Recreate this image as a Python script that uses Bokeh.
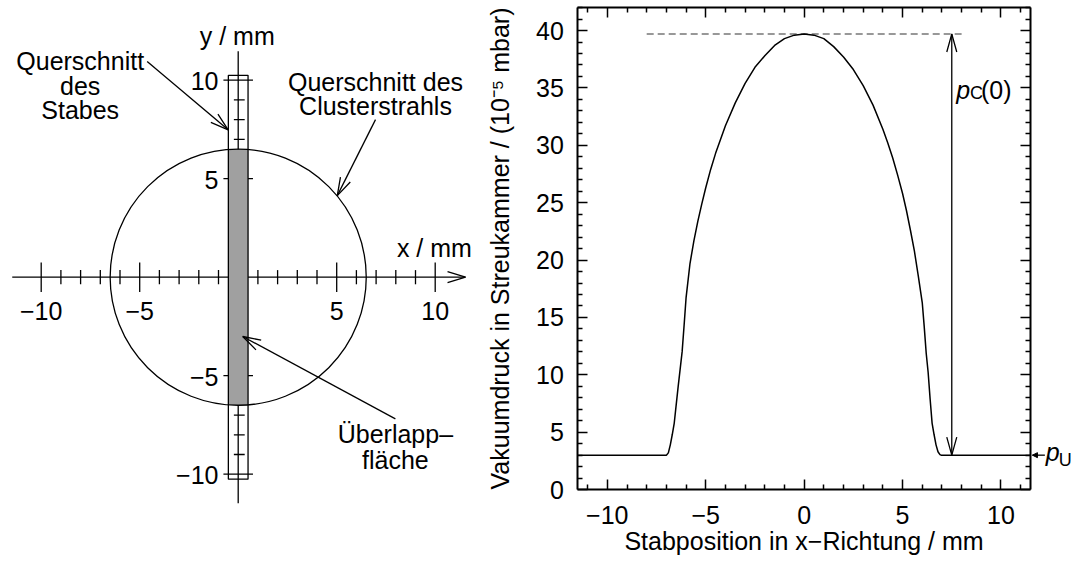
from bokeh.plotting import figure
from bokeh.models import Range1d, FixedTicker, CustomJSTickFormatter, LinearAxis
from bokeh.embed import file_html
from bokeh.resources import INLINE
from bokeh.core.properties import value
import numpy as np

# ---------------- data ----------------
# right panel: pressure vs rod position
stab_x = [-11.5, -7.0, -6.9, -6.8, -6.7, -6.6, -6.5, -6.4, -6.3, -6.2, -6.1, -6.0,
          -5.8, -5.6, -5.4, -5.2, -5.0, -4.75, -4.5, -4.25, -4.0, -3.5, -3.0, -2.5,
          -2.0, -1.5, -1.0, -0.5, 0.0, 0.5, 1.0, 1.5, 2.0, 2.5, 3.0, 3.5, 4.0, 4.25,
          4.5, 4.75, 5.0, 5.2, 5.4, 5.6, 5.8, 6.0, 6.1, 6.2, 6.3, 6.4, 6.5, 6.6, 6.7,
          6.8, 6.9, 6.96, 11.5]
druck = [3.0, 3.0, 3.2, 3.9, 4.8, 5.8, 7.4, 9.0, 10.5, 12.0, 14.3, 16.7,
         19.7, 21.7, 23.4, 24.9, 26.3, 27.9, 29.3, 30.5, 31.7, 33.7, 35.4, 36.8,
         37.8, 38.7, 39.3, 39.6, 39.7, 39.6, 39.3, 38.6, 37.7, 36.6, 35.2, 33.5, 31.4, 30.2,
         28.9, 27.4, 25.8, 24.3, 22.6, 20.8, 18.6, 16.3, 14.2, 11.9, 10.2, 7.9, 5.8, 4.8, 3.9,
         3.3, 3.05, 3.0, 3.0]
p_peak = 39.7
p_u = 3.0
peak_dash_x = [-8.0, 8.0]
pc_arrow_x = 7.5
r_xlim = (-11.5, 11.5)
r_ylim = (0, 42)
r_x_major = [-10, -5, 0, 5, 10]
r_x_minor = [-11, -9, -8, -7, -6, -4, -3, -2, -1, 1, 2, 3, 4, 6, 7, 8, 9, 11]
r_y_major = [0, 5, 10, 15, 20, 25, 30, 35, 40]
r_y_minor = [1, 2, 3, 4, 6, 7, 8, 9, 11, 12, 13, 14, 16, 17, 18, 19, 21, 22, 23, 24,
             26, 27, 28, 29, 31, 32, 33, 34, 36, 37, 38, 39, 41, 42]

# left panel: geometry sketch
circle_r = 6.5
rod_half_w = 0.5
rod_half_len = 10.25
axis_min, axis_max = -11.47, 11.5
l_major = [-10, -5, 5, 10]
l_major_labels = ["\u221210", "\u22125", "5", "10"]
l_minor = [-9, -8, -7, -6, -4, -3, -2, -1, 1, 2, 3, 4, 6, 7, 8, 9]

FONT = "Liberation Sans"
FS = "25px"
W, H = 1084, 561

# ---------------- helpers ----------------
def head_pts(tail, tip, sx, sy, length, half):
    dx = (tip[0] - tail[0]) * sx
    dy = (tip[1] - tail[1]) * sy
    L = (dx * dx + dy * dy) ** 0.5
    ux, uy = dx / L, dy / L
    bx, by = -ux * length, -uy * length
    px, py = -uy * half, ux * half
    xs = [tip[0] + (bx + px) / sx, tip[0], tip[0] + (bx - px) / sx]
    ys = [tip[1] + (by + py) / sy, tip[1], tip[1] + (by - py) / sy]
    return xs, ys

# ---------------- single canvas ----------------
SX = 452.7 / 23.0          # px per mm (right panel)
SY = 482.0 / 42.0          # px per 1e-5 mbar
FX0, FY0 = 577.3, 489.1    # pixel of (x=-11.5, y=0)
xr = Range1d(r_xlim[0] - FX0 / SX, r_xlim[0] + (W - FX0) / SX)
yr = Range1d(-(H - FY0) / SY, FY0 / SY)

p = figure(width=W, height=H, x_range=xr, y_range=yr, x_axis_type=None, y_axis_type=None,
           output_backend="svg", toolbar_location=None, min_border=0)
p.grid.visible = False
p.outline_line_color = None

# left panel coordinate system (extra ranges, equal scale)
S = 19.7
OX, OY = 237.7, 276.7
p.extra_x_ranges = {"lx": Range1d(-OX / S, (W - OX) / S)}
p.extra_y_ranges = {"ly": Range1d(-(H - OY) / S, OY / S)}
L = dict(x_range_name="lx", y_range_name="ly")

blk = dict(line_color="black", line_width=1.3)
p.segment(x0=[axis_min], y0=[0], x1=[axis_max + 0.04], y1=[0], **blk, **L)
p.segment(x0=[0], y0=[axis_min], x1=[0], y1=[axis_max - 0.03], **blk, **L)
hx, hy = head_pts((0, 0), (axis_max + 0.04, 0), S, S, 18, 5.5)
p.line(hx, hy, **blk, **L)
p.segment(x0=l_major, y0=[-0.75] * 4, x1=l_major, y1=[0.75] * 4, **blk, **L)
p.segment(x0=l_minor, y0=[-0.36] * len(l_minor), x1=l_minor, y1=[0.36] * len(l_minor), **blk, **L)
p.segment(x0=[-0.75] * 4, y0=l_major, x1=[0.75] * 4, y1=l_major, **blk, **L)
p.segment(x0=[-0.22] * len(l_minor), y0=l_minor, x1=[0.33] * len(l_minor), y1=l_minor, **blk, **L)
ax = np.linspace(-rod_half_w, rod_half_w, 21)
ay = np.sqrt(circle_r ** 2 - ax ** 2)
p.patch(np.concatenate([ax, ax[::-1]]), np.concatenate([ay, -ay[::-1]]),
        fill_color="#a0a0a0", line_color=None, **L)
p.circle(x=[0], y=[0], radius=circle_r, fill_color=None, line_color="black", line_width=1.3, **L)
p.quad(left=[-rod_half_w], right=[rod_half_w], bottom=[-rod_half_len], top=[rod_half_len],
       fill_color=None, **blk, **L)

txt = dict(text_font=value(FONT), text_font_size=FS, text_baseline="alphabetic", text_color="black")
p.text(x=l_major, y=[-1.7] * 4, text=l_major_labels, text_align="center", **txt, **L)
p.text(x=[-1.0] * 4, y=[v - 0.06 for v in l_major], text=l_major_labels, text_align="right", **txt, **L)
p.text(x=[-0.05], y=[12.23], text=["y / mm"], text_align="center", **txt, **L)
p.text(x=[9.96], y=[1.48], text=["x / mm"], text_align="center", **txt, **L)
p.text(x=[-8.02] * 3, y=[11.0, 9.73, 8.5], text=["Querschnitt", "des", "Stabes"],
       text_align="center", **txt, **L)
p.text(x=[6.97] * 2, y=[9.89, 8.7], text=["Querschnitt des", "Clusterstrahls"],
       text_align="center", **txt, **L)
p.text(x=[7.98] * 2, y=[-7.97, -9.27], text=["\u00dcberlapp\u2013", "fl\u00e4che"],
       text_align="center", **txt, **L)

for tail, tip in [((-4.62, 10.95), (-0.51, 7.48)),
                  ((6.97, 8.0), (5.03, 4.14)),
                  ((7.98, -7.19), (0.23, -3.01))]:
    p.segment(x0=[tail[0]], y0=[tail[1]], x1=[tip[0]], y1=[tip[1]], **blk, **L)
    hx, hy = head_pts(tail, tip, S, S, 18, 5.5)
    p.line(hx, hy, **blk, **L)

# ---------------- right panel axes ----------------
fmt = CustomJSTickFormatter(code="return tick < 0 ? '\\u2212' + Math.abs(tick) : String(tick);")
empty = CustomJSTickFormatter(code="return '';")

bottom = LinearAxis(ticker=FixedTicker(ticks=r_x_major, minor_ticks=r_x_minor), formatter=fmt,
                    fixed_location=r_ylim[0], bounds=r_xlim,
                    axis_label="Stabposition in x\u2212Richtung / mm",
                    major_label_standoff=16, axis_label_standoff=0)
leftax = LinearAxis(ticker=FixedTicker(ticks=r_y_major, minor_ticks=r_y_minor), formatter=fmt,
                    fixed_location=r_xlim[0], bounds=r_ylim,
                    axis_label="Vakuumdruck in Streukammer / (10\u207b\u2075 mbar)",
                    major_label_standoff=14, axis_label_standoff=19)
top = LinearAxis(ticker=FixedTicker(ticks=r_x_major, minor_ticks=r_x_minor), formatter=empty,
                 fixed_location=r_ylim[1], bounds=r_xlim, major_label_text_font_size="0px",
                 major_label_standoff=0)
rightax = LinearAxis(ticker=FixedTicker(ticks=r_y_major, minor_ticks=r_y_minor), formatter=empty,
                     fixed_location=r_xlim[1], bounds=r_ylim, major_label_text_font_size="0px",
                     major_label_standoff=0)
for a in [bottom, leftax]:
    a.major_label_text_font = FONT
    a.major_label_text_font_size = FS
    a.major_label_text_color = "black"
    a.axis_label_text_font = FONT
    a.axis_label_text_font_size = FS
    a.axis_label_text_font_style = "normal"
    a.axis_label_text_color = "black"
for a in [bottom, leftax, top, rightax]:
    a.axis_line_color = "black"
    a.axis_line_width = 2
    a.major_tick_in = 10
    a.major_tick_out = 0
    a.minor_tick_in = 5
    a.minor_tick_out = 0
    a.major_tick_line_color = "black"
    a.minor_tick_line_color = "black"
    a.major_tick_line_width = 1.5
    a.minor_tick_line_width = 1.5
p.add_layout(bottom, "below")
p.add_layout(leftax, "left")
p.add_layout(top, "above")
p.add_layout(rightax, "right")

# ---------------- right panel content ----------------
p.line(peak_dash_x, [p_peak, p_peak], line_color="#777777", line_width=1.3, line_dash="7 4")
p.line(stab_x, druck, line_color="black", line_width=1.5)
p.segment(x0=[pc_arrow_x], y0=[p_u], x1=[pc_arrow_x], y1=[p_peak], line_color="black", line_width=1.3)
for tail, tip in [((pc_arrow_x, p_u), (pc_arrow_x, p_peak)), ((pc_arrow_x, p_peak), (pc_arrow_x, p_u))]:
    hx, hy = head_pts(tail, tip, SX, SY, 18, 5.0)
    p.line(hx, hy, line_color="black", line_width=1.3)

pu_tail, pu_tip = (12.23, p_u), (11.6, p_u)
p.segment(x0=[pu_tail[0]], y0=[p_u], x1=[pu_tip[0]], y1=[p_u], line_color="black", line_width=1.3)
hx, hy = head_pts(pu_tail, pu_tip, SX, SY, 5, 2.5)
p.patch(hx, hy, fill_color="black", line_color="black", line_width=1)

lab = dict(text_font=value(FONT), text_color="black", text_baseline="alphabetic", text_align="left")
p.text(x=[7.73], y=[34.85], text=["p"], text_font_style="italic", text_font_size="25px", **lab)
p.text(x=[8.42], y=[34.6], text=["C"], text_font_size="18px", **lab)
p.text(x=[8.98], y=[34.85], text=["(0)"], text_font_size="25px", **lab)
p.text(x=[12.28], y=[3.3], text=["p"], text_font_style="italic", text_font_size="25px", **lab)
p.text(x=[12.94], y=[2.55], text=["U"], text_font_size="18px", **lab)

open("out.html", "w").write(file_html(p, INLINE))
